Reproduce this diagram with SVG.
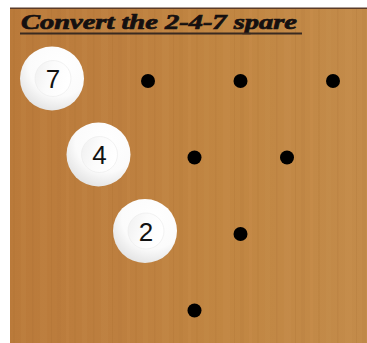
<svg xmlns="http://www.w3.org/2000/svg" width="367" height="343" viewBox="0 0 367 343">
<style>
.dot{fill:#000}
.num{font-family:"Liberation Sans",Arial,sans-serif;font-size:26px;fill:#111;text-anchor:middle}
.title{font-family:"Liberation Serif","DejaVu Serif",serif;font-weight:bold;font-style:italic;font-size:20px;fill:#151010;stroke:#151010;stroke-width:0.7}
</style>
<defs>
<linearGradient id="woodBase" x1="0" y1="0" x2="1" y2="0">
<stop offset="0" stop-color="#ba7a3a"/>
<stop offset="0.3" stop-color="#bd7f3f"/>
<stop offset="0.6" stop-color="#c18642"/>
<stop offset="1" stop-color="#c38b4a"/>
</linearGradient>
<pattern id="grain" x="10" y="0" width="61" height="343" patternUnits="userSpaceOnUse">
<rect x="3" y="0" width="2" height="343" fill="#a86a2c" opacity="0.12"/>
<rect x="11" y="0" width="5" height="343" fill="#d59b5c" opacity="0.1"/>
<rect x="22" y="0" width="1.5" height="343" fill="#9e6226" opacity="0.12"/>
<rect x="30" y="0" width="7" height="343" fill="#d7a064" opacity="0.08"/>
<rect x="41" y="0" width="1" height="343" fill="#96591f" opacity="0.12"/>
<rect x="47" y="0" width="4" height="343" fill="#a66a2e" opacity="0.1"/>
<rect x="56" y="0" width="3" height="343" fill="#dca46a" opacity="0.08"/>
</pattern>
<radialGradient id="ball" cx="0.62" cy="0.3" r="0.8">
<stop offset="0" stop-color="#ffffff"/>
<stop offset="0.6" stop-color="#fbfbfb"/>
<stop offset="1" stop-color="#dedede"/>
</radialGradient>
<linearGradient id="inner" x1="0" y1="0" x2="1" y2="0.3">
<stop offset="0" stop-color="#f0f0f0"/>
<stop offset="0.5" stop-color="#fbfbfb"/>
<stop offset="1" stop-color="#ffffff"/>
</linearGradient>
</defs>
<rect width="367" height="343" fill="#ffffff"/>
<rect x="10" y="8" width="357" height="335" fill="url(#woodBase)"/>
<rect x="10" y="8" width="357" height="335" fill="url(#grain)"/>
<rect x="10" y="7.5" width="357" height="1.5" fill="#5b3b28"/>
<g id="title">
<text class="title" x="21" y="29" textLength="276" lengthAdjust="spacingAndGlyphs">Convert the 2-4-7 spare</text>
<rect x="20" y="32.5" width="282" height="2" fill="#3a2a20"/>
</g>
<g id="connectors"/>
<g id="pin7">
<circle cx="52" cy="78.5" r="32" fill="url(#ball)"/>
<circle cx="53" cy="78.5" r="18" fill="url(#inner)" stroke="#ececec" stroke-width="0.7"/>
<text class="num" x="53" y="88">7</text>
</g>
<g id="pin8"><circle class="dot" cx="148" cy="81" r="7"/></g>
<g id="pin9"><circle class="dot" cx="240.5" cy="81" r="7"/></g>
<g id="pin10"><circle class="dot" cx="333" cy="81" r="7"/></g>
<g id="pin4">
<circle cx="98.5" cy="154.5" r="32" fill="url(#ball)"/>
<circle cx="99.5" cy="154.5" r="18" fill="url(#inner)" stroke="#ececec" stroke-width="0.7"/>
<text class="num" x="99.5" y="164">4</text>
</g>
<g id="pin5"><circle class="dot" cx="194.5" cy="157.5" r="7"/></g>
<g id="pin6"><circle class="dot" cx="287" cy="157.5" r="7"/></g>
<g id="pin2">
<circle cx="145" cy="231" r="32" fill="url(#ball)"/>
<circle cx="146" cy="231" r="18" fill="url(#inner)" stroke="#ececec" stroke-width="0.7"/>
<text class="num" x="146" y="240.5">2</text>
</g>
<g id="pin3"><circle class="dot" cx="240.5" cy="234" r="7"/></g>
<g id="pin1"><circle class="dot" cx="194.5" cy="310.5" r="7"/></g>
</svg>
